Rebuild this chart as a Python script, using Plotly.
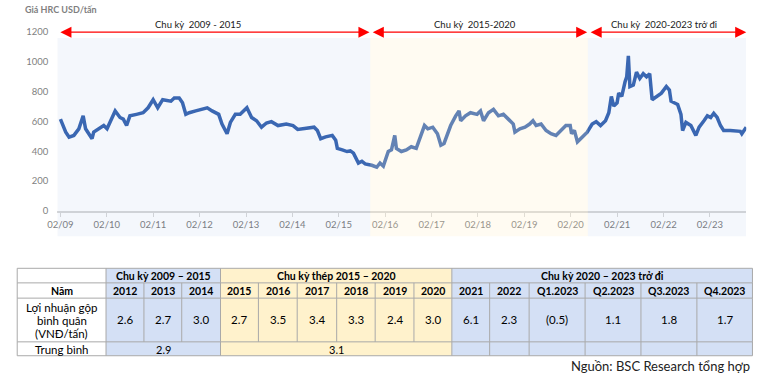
import plotly.graph_objects as go

# ---------------- DATA ----------------
dates = [
    "2009-02-01", "2009-03-15", "2009-04-10", "2009-05-18", "2009-06-26", "2009-07-30", "2009-08-18",
    "2009-10-08", "2009-10-21", "2009-12-12", "2010-01-08", "2010-02-03", "2010-03-12", "2010-04-08",
    "2010-05-16", "2010-06-11", "2010-07-07", "2010-08-02", "2010-09-23", "2010-11-14", "2010-12-23",
    "2011-02-01", "2011-03-09", "2011-04-17", "2011-06-21", "2011-07-17", "2011-08-25", "2011-09-20",
    "2011-10-16", "2011-11-12", "2012-01-02", "2012-02-24", "2012-04-02", "2012-05-10", "2012-07-01",
    "2012-07-27", "2012-09-05", "2012-10-01", "2012-11-09", "2012-12-17", "2013-02-08", "2013-03-17",
    "2013-04-25", "2013-06-03", "2013-07-12", "2013-08-20", "2013-10-11", "2013-12-15", "2014-02-06",
    "2014-03-15", "2014-05-05", "2014-07-22", "2014-08-17", "2014-09-12", "2014-10-21", "2014-12-12",
    "2015-01-08", "2015-01-21", "2015-03-01", "2015-04-07", "2015-05-03", "2015-05-28", "2015-07-06",
    "2015-08-02", "2015-08-28", "2015-10-19", "2015-11-27", "2015-12-23", "2016-01-18", "2016-02-26",
    "2016-03-22", "2016-04-17", "2016-04-30", "2016-06-08", "2016-07-17", "2016-08-25", "2016-10-03",
    "2016-11-11", "2016-12-07", "2017-01-02", "2017-02-10", "2017-03-19", "2017-04-15", "2017-05-10",
    "2017-07-01", "2017-08-10", "2017-09-05", "2017-09-18", "2017-10-26", "2017-12-04", "2018-01-25",
    "2018-02-21", "2018-03-17", "2018-04-25", "2018-06-03", "2018-07-12", "2018-08-20", "2018-09-28",
    "2018-11-06", "2018-11-19", "2018-12-28", "2019-02-06", "2019-03-15", "2019-04-10", "2019-05-05",
    "2019-06-13", "2019-07-22", "2019-08-30", "2019-10-08", "2019-11-16", "2019-12-25", "2020-01-28",
    "2020-02-08", "2020-03-01", "2020-03-25", "2020-05-03", "2020-06-10", "2020-07-19", "2020-08-20",
    "2020-09-23", "2020-11-01", "2020-11-27", "2020-12-17", "2021-01-05", "2021-01-31", "2021-02-13",
    "2021-03-09", "2021-04-04", "2021-04-17", "2021-04-30", "2021-05-12", "2021-06-08", "2021-07-03",
    "2021-07-29", "2021-08-25", "2021-09-20", "2021-10-15", "2021-11-03", "2021-12-06", "2022-01-15",
    "2022-02-23", "2022-03-19", "2022-04-01", "2022-05-23", "2022-06-18", "2022-07-01", "2022-07-27",
    "2022-09-04", "2022-10-13", "2022-11-08", "2022-12-16", "2023-01-12", "2023-02-07", "2023-03-03",
    "2023-03-30", "2023-04-25", "2023-05-20", "2023-07-11", "2023-09-28", "2023-10-10", "2023-11-14",
]
hrc_price = [
    615, 528, 495, 506, 550, 637, 550,
    484, 528, 561, 572, 550, 615, 670,
    626, 615, 572, 637, 647, 658, 691,
    745, 691, 745, 735, 756, 756, 724,
    647, 658, 670, 680, 691, 670, 647,
    582, 517, 593, 647, 647, 691, 626,
    604, 561, 589, 598, 572, 582, 572,
    546, 550, 561, 539, 484, 496, 506,
    474, 419, 409, 398, 402, 387, 321,
    333, 315, 306, 293, 321, 300, 398,
    409, 506, 419, 398, 409, 430, 419,
    506, 572, 550, 561, 517, 441, 452,
    572, 637, 670, 604, 637, 658, 647,
    670, 604, 658, 680, 637, 647, 615,
    582, 528, 550, 561, 582, 604, 572,
    582, 539, 517, 506, 539, 572, 572,
    517, 540, 463, 496, 528, 582, 598,
    572, 604, 658, 767, 702, 724, 789,
    767, 865, 898, 1039, 833, 843, 930,
    887, 919, 898, 919, 745, 767, 789,
    833, 810, 735, 713, 647, 539, 593,
    572, 506, 561, 604, 637, 626, 654,
    626, 572, 539, 539, 533, 517, 561,
]

x_tick_vals = ["2009-02-01", "2010-02-01", "2011-02-01", "2012-02-01", "2013-02-01",
               "2014-02-01", "2015-02-01", "2016-02-01", "2017-02-01", "2018-02-01",
               "2019-02-01", "2020-02-01", "2021-02-01", "2022-02-01", "2023-02-01"]
x_tick_text = ["02/09", "02/10", "02/11", "02/12", "02/13", "02/14", "02/15", "02/16",
               "02/17", "02/18", "02/19", "02/20", "02/21", "02/22", "02/23"]
y_tick_vals = [0, 200, 400, 600, 800, 1000, 1200]

cycle_bounds = ["2009-01-08", "2015-10-07", "2020-06-15", "2023-11-14"]
cycle_chart_labels = ["Chu kỳ  2009 - 2015", "Chu kỳ  2015-2020", "Chu kỳ  2020-2023 trở đi"]

table_cycles = ["Chu kỳ 2009 – 2015", "Chu kỳ thép 2015 – 2020", "Chu kỳ 2020 – 2023 trở đi"]
table_periods = ["2012", "2013", "2014", "2015", "2016", "2017", "2018", "2019", "2020",
                 "2021", "2022", "Q1.2023", "Q2.2023", "Q3.2023", "Q4.2023"]
gross_profit = [2.6, 2.7, 3.0, 2.7, 3.5, 3.4, 3.3, 2.4, 3.0, 6.1, 2.3, -0.5, 1.1, 1.8, 1.7]
cycle_average = [2.9, 3.1, None]
cycle_span = [(0, 3), (3, 9), (9, 15)]  # period index ranges per cycle

# ---------------- LAYOUT HELPERS ----------------
W, H = 765, 386
FONT = "Lato"


def px(x):
    return x / W


def py(y):
    return 1 - y / H


fig = go.Figure()
fig.add_trace(go.Scatter(x=dates, y=hrc_price, mode="lines",
                         line=dict(color="#3C68B2", width=3.5), hoverinfo="skip",
                         showlegend=False))

shapes = []
annotations = []

# shaded cycles (drawn above the line, translucent)
shade_fill = ["rgba(35,95,195,0.05)", "rgba(255,234,192,0.2)", "rgba(35,95,195,0.05)"]
for i in range(3):
    shapes.append(dict(type="rect", xref="x", yref="paper",
                       x0=cycle_bounds[i], x1=cycle_bounds[i + 1],
                       y0=py(237), y1=py(33), fillcolor=shade_fill[i],
                       line=dict(width=0), layer="above"))

# red double arrows
arrow_ends = [("2009-01-20", "2015-10-01"), ("2015-10-15", "2020-06-10"), ("2020-06-25", "2023-11-14")]
for a, b in arrow_ends:
    annotations.append(dict(x=b, y=1197, ax=a, ay=1197, xref="x", yref="y", axref="x", ayref="y",
                            text="", showarrow=True, arrowhead=2, arrowsize=1.7, arrowwidth=1.3,
                            arrowcolor="#FF0000", arrowside="end+start",
                            startarrowhead=2, startarrowsize=1.7))
label_x = [190, 471, 663]
for lx, t in zip(label_x, cycle_chart_labels):
    annotations.append(dict(x=px(lx), y=py(19), xref="paper", yref="paper", text=t,
                            showarrow=False, font=dict(family=FONT, size=9.5, color="#1a1a1a"),
                            xanchor="center", yanchor="middle"))

annotations.append(dict(x=px(13), y=py(4), xref="paper", yref="paper",
                        text="<b>Giá HRC USD/tấn</b>", showarrow=False,
                        font=dict(family=FONT, size=9, color="#7F7F7F"),
                        xanchor="left", yanchor="middle"))

# ---------------- TABLE ----------------
col_edges = [7.3, 97.3, 135.7, 174, 213.3, 251.7, 291, 331, 370, 409.3, 447.7, 486, 526,
             582.7, 639.3, 696, 752.3]
row_edges = [270, 285, 300.7, 345.7, 360]
cyc_bg = ["#D4E0F5", "#FFF2CC", "#D4E0F5"]
line_col = "#A9A9A9"


def rect(x0, x1, y0, y1, fill):
    shapes.append(dict(type="rect", xref="paper", yref="paper", x0=px(x0), x1=px(x1),
                       y0=py(y1), y1=py(y0), fillcolor=fill, line=dict(width=0), layer="below"))


def hline(x0, x1, y):
    shapes.append(dict(type="line", xref="paper", yref="paper", x0=px(x0), x1=px(x1),
                       y0=py(y), y1=py(y), line=dict(color=line_col, width=1)))


def vline(x, y0, y1):
    shapes.append(dict(type="line", xref="paper", yref="paper", x0=px(x), x1=px(x),
                       y0=py(y0), y1=py(y1), line=dict(color=line_col, width=1)))


def text(x, y, t, size=11, bold=False):
    annotations.append(dict(x=px(x), y=py(y), xref="paper", yref="paper",
                            text=f"<b>{t}</b>" if bold else t, showarrow=False,
                            font=dict(family=FONT, size=size, color="#000000"),
                            xanchor="center", yanchor="middle"))


# backgrounds
for c, (a, b) in enumerate(cycle_span):
    rect(col_edges[a + 1], col_edges[b + 1], row_edges[0], row_edges[4], cyc_bg[c])

# horizontal borders
for r in row_edges:
    hline(col_edges[0], col_edges[-1], r)

# vertical borders, row by row (merged cells skip inner lines)
cycle_edges = {0, 1} | {s[0] + 1 for s in cycle_span} | {cycle_span[-1][1] + 1}
for ri in range(4):
    for k, xe in enumerate(col_edges):
        if ri == 0 and k not in cycle_edges:
            continue
        if ri == 3 and k not in cycle_edges:
            c_of_k = next(c for c, (a, b) in enumerate(cycle_span) if a + 1 <= k <= b + 1)
            if cycle_average[c_of_k] is not None:
                continue
        vline(xe, row_edges[ri], row_edges[ri + 1])

# header texts
for c, (a, b) in enumerate(cycle_span):
    xm = (col_edges[a + 1] + col_edges[b + 1]) / 2
    text(xm, (row_edges[0] + row_edges[1]) / 2 + 0.5, table_cycles[c], size=10.5, bold=True)
    if cycle_average[c] is not None:
        text(xm, (row_edges[3] + row_edges[4]) / 2 + 0.5, f"{cycle_average[c]:.1f}")

text((col_edges[0] + col_edges[1]) / 2, (row_edges[1] + row_edges[2]) / 2 + 0.5, "Năm",
     size=10.5, bold=True)
text((col_edges[0] + col_edges[1]) / 2, 310, "Lợi nhuận gộp", size=11.5)
text((col_edges[0] + col_edges[1]) / 2, 323.5, "bình quân", size=11.5)
text((col_edges[0] + col_edges[1]) / 2, 337.5, "(VNĐ/tấn)", size=11.5)
text((col_edges[0] + col_edges[1]) / 2, (row_edges[3] + row_edges[4]) / 2 + 0.5, "Trung bình",
     size=11.5)

for i, (p, v) in enumerate(zip(table_periods, gross_profit)):
    xm = (col_edges[i + 1] + col_edges[i + 2]) / 2
    text(xm, (row_edges[1] + row_edges[2]) / 2 + 0.5, p, size=10.5, bold=True)
    vs = f"({abs(v):.1f})" if v < 0 else f"{v:.1f}"
    text(xm, (row_edges[2] + row_edges[3]) / 2, vs, size=11.5)

annotations.append(dict(x=px(752), y=py(371), xref="paper", yref="paper",
                        text="Nguồn: BSC Research tổng hợp", showarrow=False,
                        font=dict(family=FONT, size=13, color="#222222"),
                        xanchor="right", yanchor="middle"))

fig.update_layout(
    width=W, height=H, margin=dict(l=0, r=0, t=0, b=0),
    paper_bgcolor="white", plot_bgcolor="rgba(0,0,0,0)",
    showlegend=False, shapes=shapes, annotations=annotations,
    xaxis=dict(type="date", domain=[px(48), px(746)],
               range=[cycle_bounds[0], cycle_bounds[-1]],
               tickvals=x_tick_vals, ticktext=x_tick_text, tickangle=0,
               showgrid=False, zeroline=False, showline=True, linecolor="#D9D9D9", linewidth=1.5,
               ticks="outside", ticklen=4, tickcolor="#D9D9D9",
               tickfont=dict(family=FONT, size=9.5, color="#7F7F7F")),
    yaxis=dict(domain=[py(211), py(26.5)], range=[0, 1200], tickvals=y_tick_vals,
               showgrid=False, zeroline=False, showline=False, ticks="",
               ticklabelstandoff=8,
               tickfont=dict(family=FONT, size=9.5, color="#7F7F7F")),
)

fig.write_html("out.html", config={"displayModeBar": False},
               post_script="document.body.style.margin='0';document.body.style.overflow='hidden';")
